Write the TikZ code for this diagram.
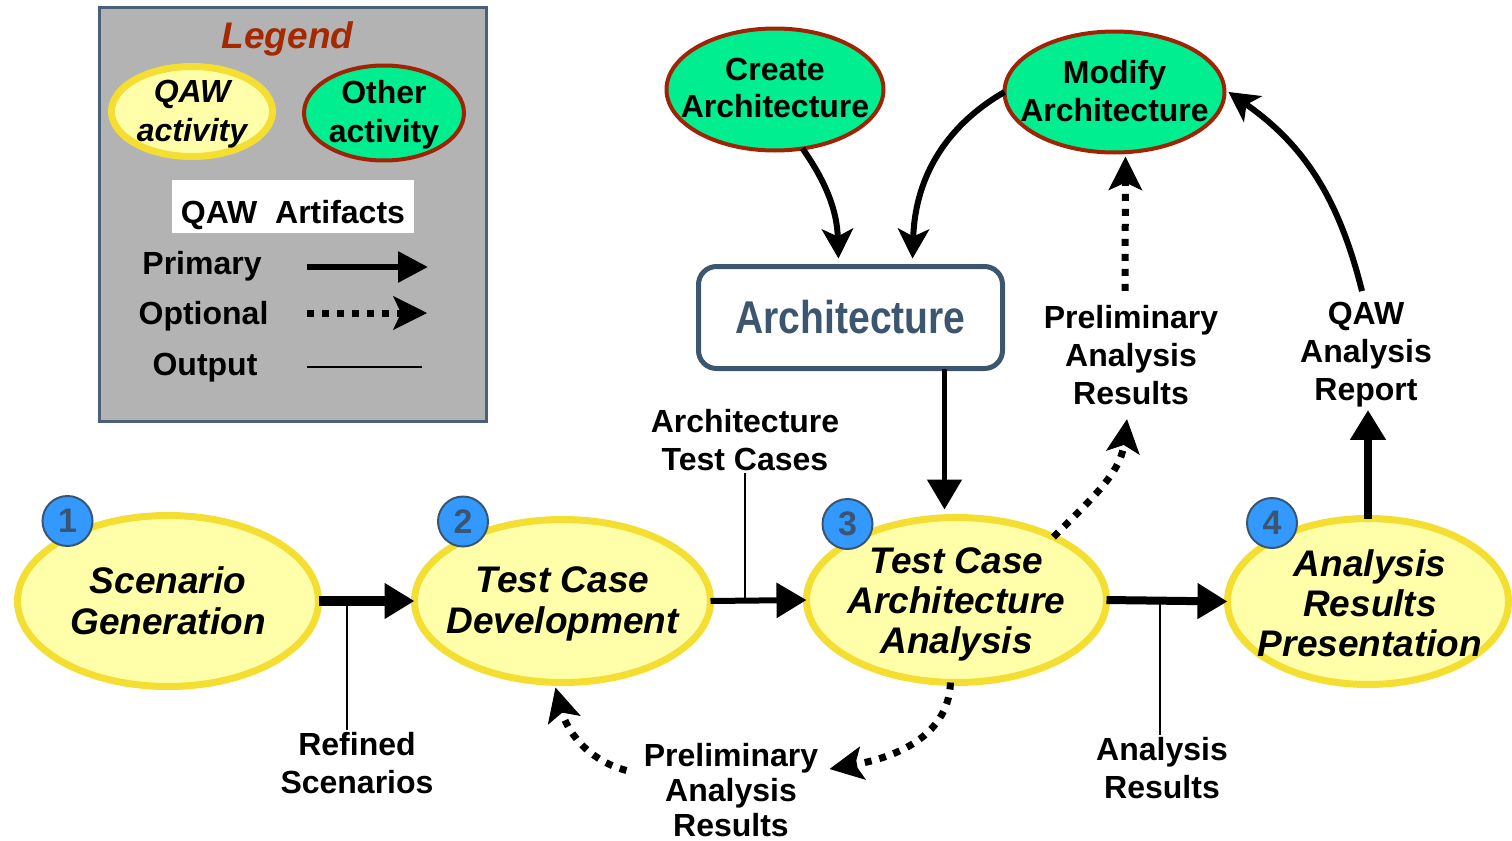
\documentclass[tikz,border=0pt]{standalone}
\usepackage{fontspec}
\setmainfont{Liberation Sans}
\usepackage{graphicx}
\usetikzlibrary{shapes.geometric,arrows.meta}
\definecolor{qawfill}{RGB}{255,255,170}
\definecolor{qawedge}{RGB}{245,222,50}
\definecolor{othfill}{RGB}{0,238,144}
\definecolor{othedge}{RGB}{160,35,5}
\definecolor{badgefill}{RGB}{51,153,255}
\definecolor{badgeedge}{RGB}{58,85,114}
\definecolor{legfill}{RGB}{179,179,179}
\definecolor{legedge}{RGB}{74,95,122}
\definecolor{legtitle}{RGB}{165,40,0}
\definecolor{archcol}{RGB}{61,86,112}
\begin{document}
\begin{tikzpicture}[x=0.5pt,y=-0.5pt,
 qaw/.style={ellipse,draw=qawedge,line width=3.5pt,fill=qawfill,inner sep=0pt,outer sep=0pt},
 oth/.style={ellipse,draw=othedge,line width=2pt,fill=othfill,inner sep=0pt,outer sep=0pt},
 etext/.style={align=center,inner sep=0pt,font=\fontsize{18.5}{20.5}\selectfont\bfseries\itshape},
 otext/.style={align=center,inner sep=0pt,font=\fontsize{16}{18.5}\selectfont\bfseries},
 badge/.style={circle,draw=badgeedge,line width=1pt,fill=badgefill,minimum size=25pt,inner sep=0pt,text=badgeedge,font=\fontsize{17}{17}\selectfont\bfseries},
 lbl/.style={align=center,inner sep=1pt,font=\fontsize{16}{19}\selectfont\bfseries},
 prim/.style={line width=#1,-{Triangle[length=15pt,width=17pt]}},
 curv/.style={line width=3pt,-{Stealth[length=15pt,width=16pt,inset=4pt,line width=0.5pt]}},
 opt/.style={line width=3.5pt,dash pattern=on 3.5pt off 4pt,-{Stealth[length=17pt,width=17pt,inset=4pt,line width=0.5pt]}},
 outl/.style={line width=1.3pt},
]
\useasboundingbox (0,0) rectangle (1512,841);
% ---------------- Legend
\node[draw=legedge,fill=legfill,line width=1.2pt,minimum width=193.5pt,minimum height=207pt,inner sep=0pt,outer sep=0pt] (legbox) at (293,214.5) {};
\node[inner sep=0pt,font=\fontsize{18.5}{20}\selectfont\bfseries\itshape,text=legtitle] (legT) at (287.5,39) {Legend};
\node[qaw,minimum width=80.5pt,minimum height=45pt] (legqaw) at (192,111.5) {};
\node[etext,font=\fontsize{16}{19.5}\selectfont\bfseries\itshape] (legqawT) at (192,114) {QAW\\activity};
\node[oth,minimum width=80pt,minimum height=47.5pt] (legoth) at (384,113) {};
\node[otext,font=\fontsize{16}{19.5}\selectfont\bfseries] (legothT) at (384,115) {Other\\activity};
\node[fill=white,minimum width=121pt,minimum height=26.5pt,inner sep=0pt,text height=16.5pt,text depth=0pt,font=\fontsize{16}{19}\selectfont\bfseries] (artbox) at (293,206.5) {QAW\ \ Artifacts};
\node[lbl] (lprim) at (202,266) {Primary};
\node[lbl] (lopt) at (203.5,316) {Optional};
\node[lbl] (lout) at (205,368) {Output};
\coordinate (lp1) at (307,267); \coordinate (lp2) at (428,267);
\coordinate (lo1) at (307,313); \coordinate (lo2) at (427,313);
\coordinate (lq1) at (307,367); \coordinate (lq2) at (422,367);
\draw[line width=3pt,-{Triangle[length=15pt,width=15pt]}] (lp1) -- (lp2);
\draw[opt] (lo1) -- (lo2);
\draw[line width=1pt] (lq1) -- (lq2);
% ---------------- Other activities
\node[oth,minimum width=108.5pt,minimum height=61pt] (create) at (775,89.5) {};
\node[otext] (createT) at (775,88) {Create\\Architecture};
\node[oth,minimum width=110pt,minimum height=60.5pt] (modify) at (1114.5,92) {};
\node[otext,font=\fontsize{16}{19}\selectfont\bfseries] (modifyT) at (1114.5,91) {Modify\\Architecture};
% ---------------- Architecture box
\node[draw=archcol,line width=2.5pt,rounded corners=9pt,fill=white,minimum width=152pt,minimum height=51pt,inner sep=0pt,outer sep=0pt,text=archcol,font=\fontsize{23}{23}\selectfont\bfseries] (arch) at (850.5,317.5) {\scalebox{0.85}[1]{Architecture}};
% ---------------- QAW activities
\node[qaw,minimum width=150.5pt,minimum height=85.5pt] (scen) at (168,601) {};
\node[etext] (scenT) at (scen) {Scenario\\Generation};
\node[qaw,minimum width=148pt,minimum height=81.5pt] (tcd) at (562.5,601) {};
\node[etext] (tcdT) at (562.5,604) {Test Case\\Development};
\node[qaw,minimum width=150pt,minimum height=82.5pt] (tcaa) at (956.5,600) {};
\node[etext,font=\fontsize{18.5}{20}\selectfont\bfseries\itshape] (tcaaT) at (956.5,604) {Test Case\\Architecture\\Analysis};
\node[qaw,minimum width=140.5pt,minimum height=83pt] (arp) at (1368,601.5) {};
\node[etext,font=\fontsize{18.5}{20}\selectfont\bfseries\itshape] (arpT) at (1370,603) {Analysis\\Results\\Presentation};
% badges
\node[badge] (b1) at (67.5,521) {1};
\node[badge] (b2) at (463,521.5) {2};
\node[badge] (b3) at (847.5,524) {3};
\node[badge] (b4) at (1272,523) {4};
% ---------------- Artifact labels
\node[lbl] (prelimU) at (1131,355) {Preliminary\\Analysis\\Results};
\node[lbl] (qawrep) at (1366,355) {QAW\\Analysis\\Report};
\node[lbl] (atc) at (745,440) {Architecture\\Test Cases};
\node[lbl] (refined) at (357,763) {Refined\\Scenarios};
\node[lbl,font=\fontsize{16}{17.5}\selectfont\bfseries] (prelimB) at (731,790) {Preliminary\\Analysis\\Results};
\node[lbl] (ares) at (1162,768) {Analysis\\Results};
% ---------------- Connectors
\draw[prim=5pt] (scen.east) -- (tcd.west);
\draw[prim=3pt] (tcd.east) -- (tcaa.west);
\draw[prim=4pt] (tcaa.east) -- (arp.west);
\draw[prim=4pt] (arp.north) -- (arp.north |- qawrep.south);
\draw[prim=2.5pt] ([xshift=47pt]arch.south) -- ([xshift=-6pt,yshift=4pt]tcaa.north);
\draw[curv] (create.-65) to[out=-55,in=92] ([xshift=-6pt,yshift=4pt]arch.north);
\draw[curv] (modify.west) to[out=210,in=88] ([xshift=31pt,yshift=4pt]arch.north);
\draw[curv] ([xshift=-2pt,yshift=4.5pt]qawrep.north) to[out=104,in=-35] ([xshift=2pt]modify.east);
\draw[opt] ([xshift=-3pt,yshift=6pt]prelimU.north) -- ([xshift=5.5pt,yshift=-2pt]modify.south);
\draw[opt] (tcaa.33) to[out=45,in=-97] ([xshift=-2pt,yshift=-6pt]prelimU.south);
\draw[opt] ([xshift=-3pt]tcaa.south) to[out=-92,in=10] ([shift={(4.5pt,10.5pt)}]prelimB.east);
\draw[opt] ([shift={(-7.5pt,9.75pt)}]prelimB.west) to[out=165,in=-75] ([xshift=-3.5pt,yshift=-2.5pt]tcd.south);
% output lines
\coordinate (o1) at (347,601);
\coordinate (o2) at (745,601);
\coordinate (o3) at (1160,599);
\draw[outl] (o1) -- (o1 |- refined.north);
\draw[outl] (o2) -- (o2 |- atc.south);
\draw[outl] (o3) -- (o3 |- ares.north);
\end{tikzpicture}
\end{document}
